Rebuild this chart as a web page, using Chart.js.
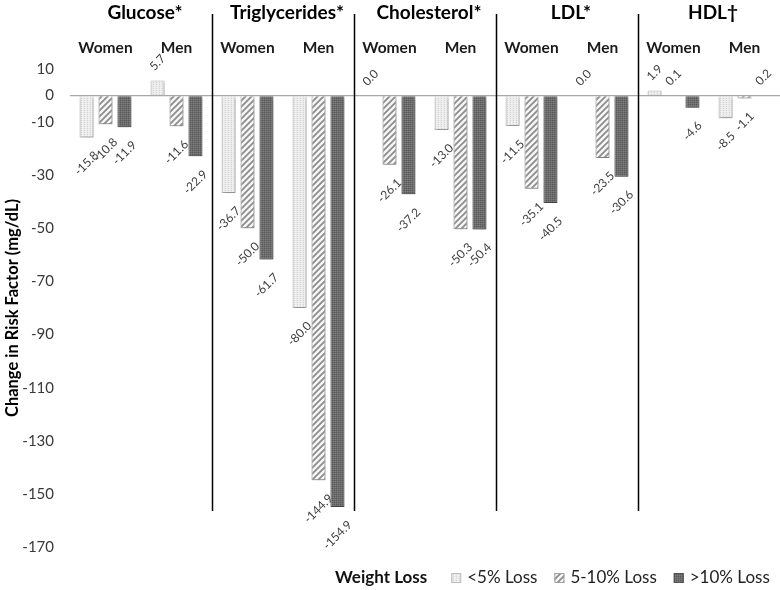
<!DOCTYPE html>
<html>
<head>
<meta charset="utf-8">
<script src="https://cdn.jsdelivr.net/npm/chart.js@4.4.1/dist/chart.umd.min.js"></script>
<style>
  html, body { margin: 0; padding: 0; background: #fff; }
  #contenedor { width: 780px; height: 590px; }
</style>
</head>
<body>
<div id="contenedor"><canvas id="graficaRiesgo"></canvas></div>
<script>
// =============================
// CAMBIO EN FACTORES DE RIESGO
// =============================

// Datos
const factores = ["Glucose*", "Triglycerides*", "Cholesterol*", "LDL*", "HDL†"];
const sexos = ["Women", "Men"];
const perdidaMenor5  = [-15.8, 5.7, -36.7, -80.0, 0.0, -13.0, -11.5, 0.0, 1.9, -8.5];
const perdida5a10    = [-10.8, -11.6, -50.0, -144.9, -26.1, -50.3, -35.1, -23.5, 0.1, -1.1];
const perdidaMayor10 = [-11.9, -22.9, -61.7, -154.9, -37.2, -50.4, -40.5, -30.6, -4.6, 0.2];
const nombresSeries = ["<5% Loss", "5-10% Loss", ">10% Loss"];
const ticksY = [10, 0, -10, -30, -50, -70, -90, -110, -130, -150, -170];

const etiquetasX = factores.flatMap(f => sexos.map(s => f + " " + s));
const fuente = "Lato, 'Open Sans', sans-serif";

// texturas de las barras
function hacerTrama(tipo) {
    const c = document.createElement("canvas");
    const g = c.getContext("2d");
    if (tipo === "claro") {
        c.width = 3; c.height = 2;
        g.fillStyle = "#ebebeb"; g.fillRect(0, 0, 3, 2);
        g.fillStyle = "#d4d4d4"; g.fillRect(0, 0, 1, 1);
        g.fillStyle = "#f4f4f4"; g.fillRect(1, 1, 1, 1);
    } else if (tipo === "rayas") {
        c.width = 6; c.height = 6;
        g.fillStyle = "#f6f6f6"; g.fillRect(0, 0, 6, 6);
        g.strokeStyle = "#8c8c8c"; g.lineWidth = 1.8;
        g.beginPath();
        g.moveTo(0, 6); g.lineTo(6, 0);
        g.moveTo(-1, 1); g.lineTo(1, -1);
        g.moveTo(5, 7); g.lineTo(7, 5);
        g.stroke();
    } else {
        c.width = 2; c.height = 2;
        g.fillStyle = "#6c6c6c"; g.fillRect(0, 0, 2, 2);
        g.fillStyle = "#585858"; g.fillRect(0, 0, 1, 1);
        g.fillStyle = "#7e7e7e"; g.fillRect(1, 1, 1, 1);
    }
    return g.createPattern(c, "repeat");
}

const tramas = [hacerTrama("claro"), hacerTrama("rayas"), hacerTrama("oscuro")];
const bordes = ["#bdbdbd", "#a0a0a0", "#525252"];

// sombra suave bajo las barras
const sombra = {
    id: "sombra",
    beforeDatasetsDraw(chart) {
        const ctx = chart.ctx;
        ctx.save();
        ctx.shadowColor = "rgba(0,0,0,0.28)";
        ctx.shadowBlur = 3;
        ctx.shadowOffsetX = 1;
        ctx.shadowOffsetY = 2;
    },
    afterDatasetsDraw(chart) {
        chart.ctx.restore();
    }
};

// valores rotados encima / debajo de cada barra
const valores = {
    id: "valores",
    afterDatasetsDraw(chart) {
        const ctx = chart.ctx;
        ctx.save();
        ctx.font = "12px " + fuente;
        ctx.fillStyle = "#404040";
        ctx.textAlign = "center";
        ctx.textBaseline = "middle";
        chart.data.datasets.forEach((ds, i) => {
            chart.getDatasetMeta(i).data.forEach((barra, j) => {
                const v = ds.data[j];
                const txt = v.toFixed(1);
                const medio = (ctx.measureText(txt).width + 11) * 0.707 / 2;
                const y = v >= 0 ? barra.y - medio - 8 : barra.y + medio + 12;
                ctx.save();
                ctx.translate(barra.x, y);
                ctx.rotate(-Math.PI / 4);
                ctx.fillText(txt, 0, 0);
                ctx.restore();
            });
        });
        ctx.restore();
    }
};

// títulos de grupo, separadores y leyenda
const decoracion = {
    id: "decoracion",
    afterDraw(chart) {
        const ctx = chart.ctx;
        const x = chart.scales.x;
        const paso = x.getPixelForValue(1) - x.getPixelForValue(0);
        ctx.save();
        ctx.textAlign = "center";
        ctx.textBaseline = "middle";
        factores.forEach((f, i) => {
            const a = x.getPixelForValue(2 * i);
            const b = x.getPixelForValue(2 * i + 1);
            ctx.fillStyle = "#000";
            ctx.font = "bold 19px " + fuente;
            ctx.fillText(f, (a + b) / 2 + 4, 13);
            ctx.font = "bold 15.5px " + fuente;
            ctx.fillStyle = "#1a1a1a";
            ctx.fillText(sexos[0], a, 48);
            ctx.fillText(sexos[1], b, 48);
            if (i > 0) {
                const sx = Math.round(a - paso / 2) + 0.5;
                ctx.strokeStyle = "#000";
                ctx.lineWidth = 1.5;
                ctx.beginPath();
                ctx.moveTo(sx, 14);
                ctx.lineTo(sx, 511);
                ctx.stroke();
            }
        });

        // leyenda
        const yl = 578;
        let xl = 335;
        ctx.textAlign = "left";
        ctx.font = "bold 17px " + fuente;
        ctx.fillStyle = "#111";
        ctx.fillText("Weight Loss", xl, yl);
        xl += ctx.measureText("Weight Loss").width + 24;
        ctx.font = "17px " + fuente;
        nombresSeries.forEach((n, i) => {
            ctx.fillStyle = tramas[i];
            ctx.fillRect(xl, yl - 5, 10, 10);
            ctx.strokeStyle = bordes[i];
            ctx.lineWidth = 1;
            ctx.strokeRect(xl + 0.5, yl - 4.5, 9, 9);
            ctx.fillStyle = "#222";
            ctx.fillText(n, xl + 16, yl);
            xl += 16 + ctx.measureText(n).width + 17;
        });
        ctx.restore();
    }
};

const ctxRiesgo = document.getElementById("graficaRiesgo").getContext("2d");

new Chart(ctxRiesgo, {
    type: "bar",
    data: {
        labels: etiquetasX,
        datasets: [perdidaMenor5, perdida5a10, perdidaMayor10].map((d, i) => ({
            label: nombresSeries[i],
            data: d,
            backgroundColor: tramas[i],
            borderColor: bordes[i],
            borderWidth: 1,
            categoryPercentage: 0.8,
            barPercentage: 0.74
        }))
    },
    options: {
        responsive: true,
        maintainAspectRatio: false,
        animation: false,
        layout: { padding: { top: 69, bottom: 43, left: 0, right: 0 } },
        plugins: {
            legend: { display: false },
            tooltip: { enabled: false }
        },
        scales: {
            x: { display: false },
            y: {
                min: -170,
                max: 10,
                afterBuildTicks: s => { s.ticks = ticksY.map(v => ({ value: v })); },
                afterFit: s => { s.width = 70; },
                border: { display: false },
                grid: {
                    drawTicks: false,
                    color: c => (c.tick && c.tick.value === 0 ? "#a8a8a8" : "rgba(0,0,0,0)"),
                    lineWidth: 1.2
                },
                ticks: {
                    padding: 16,
                    color: "#3a3a3a",
                    font: { family: fuente, size: 15 }
                },
                title: {
                    display: true,
                    text: "Change in Risk Factor (mg/dL)",
                    color: "#000",
                    font: { family: fuente, size: 16.5, weight: "bold" },
                    padding: { top: 3, bottom: 3 }
                }
            }
        }
    },
    plugins: [sombra, valores, decoracion]
});
</script>
</body>
</html>
